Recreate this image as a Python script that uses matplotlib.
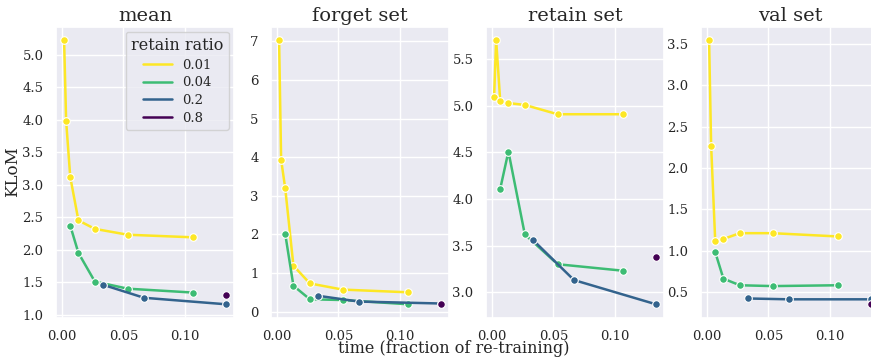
import matplotlib
matplotlib.use("Agg")
import matplotlib.pyplot as plt
import matplotlib.colors as mcolors
import seaborn as sns

# retain ratios and the unlearning time for each run (fraction of re-training)
ratios = [0.01, 0.04, 0.2, 0.8]
times = [
    [0.00167, 0.00333, 0.00667, 0.01333, 0.02667, 0.05333, 0.10667],
    [0.00667, 0.01333, 0.02667, 0.05333, 0.10667],
    [0.03333, 0.06667, 0.13333],
    [0.13333],
]

# KLoM per panel, one list per retain ratio
mean_klom = [
    [5.23, 3.98, 3.12, 2.45, 2.32, 2.23, 2.19],
    [2.37, 1.95, 1.51, 1.40, 1.34],
    [1.46, 1.26, 1.16],
    [1.31],
]
forget_klom = [
    [7.04, 3.93, 3.19, 1.19, 0.73, 0.57, 0.50],
    [2.01, 0.67, 0.32, 0.30, 0.19],
    [0.41, 0.26, 0.21],
    [0.21],
]
retain_klom = [
    [5.09, 5.71, 5.05, 5.03, 5.01, 4.91, 4.91],
    [4.11, 4.51, 3.62, 3.30, 3.23],
    [3.56, 3.13, 2.87],
    [3.38],
]
val_klom = [
    [3.55, 2.27, 1.11, 1.14, 1.21, 1.21, 1.17],
    [0.98, 0.66, 0.58, 0.57, 0.58],
    [0.42, 0.41, 0.41],
    [0.35],
]

titles = ["mean", "forget set", "retain set", "val set"]
panels = [mean_klom, forget_klom, retain_klom, val_klom]

sns.set_theme(style="darkgrid")
plt.rcParams["font.family"] = ["DejaVu Serif"]

cmap = plt.get_cmap("viridis_r")
norm = mcolors.LogNorm(vmin=min(ratios), vmax=max(ratios))

fig = plt.figure(figsize=(8.71, 3.58), dpi=100)
lefts = [56, 271, 486, 701]
axes = []
for i, left in enumerate(lefts):
    ax = fig.add_axes([left / 871, 40.5 / 358, 178 / 871, 291 / 358])
    for r, t, v in zip(ratios, times, panels[i]):
        ax.plot(t, v, color=cmap(norm(r)), lw=1.8, marker="o", ms=5.5,
                mec="white", mew=0.8, label=str(r))
    ax.set_title(titles[i], fontsize=14, pad=4)
    ax.tick_params(axis="x", labelsize=9.5, pad=3)
    ax.tick_params(axis="y", labelsize=9.5, pad=3)
    axes.append(ax)

axes[0].set_ylabel("KLoM", fontsize=12, labelpad=1)
leg = axes[0].legend(title="retain ratio", fontsize=9.5, title_fontsize=11.5,
                     loc="upper right", handlelength=2.2, labelspacing=0.35,
                     borderaxespad=0.4)
for h in leg.get_lines():
    h.set_marker("")

fig.text(454 / 871, 0.026, "time (fraction of re-training)", ha="center",
         va="center", fontsize=11.5)

fig.savefig("out.png", dpi=100)
